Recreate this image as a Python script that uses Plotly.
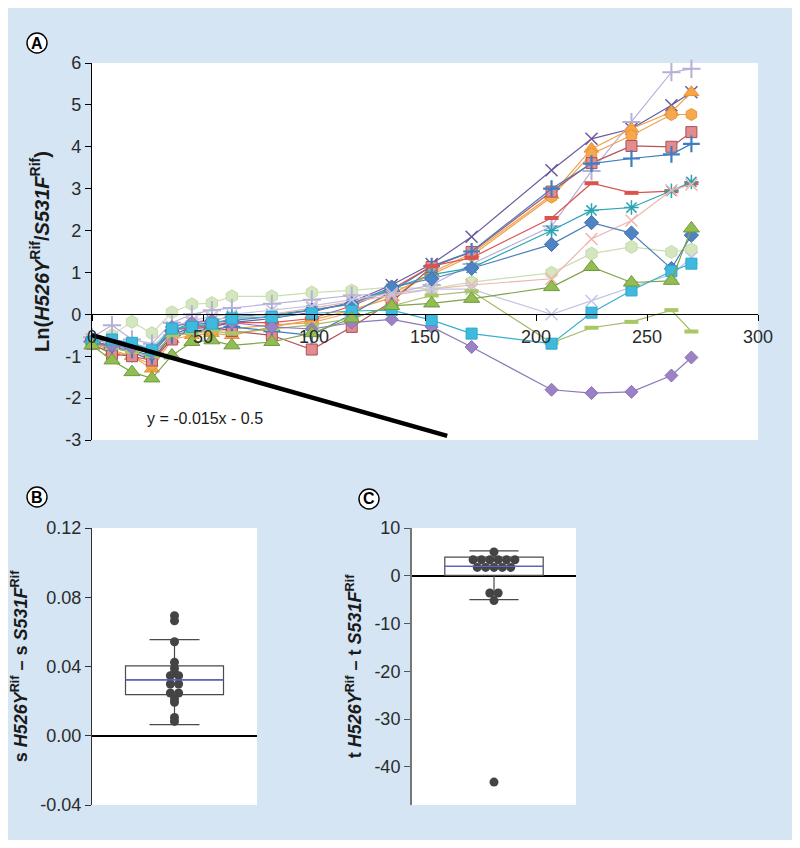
import plotly.graph_objects as go

# the page adds an 8px body margin; the figure itself is slightly smaller than the window
W, H = 784, 832
OFF = 8

# ---------------- Panel A data ----------------
days = [0, 9, 18, 27, 36, 45, 54, 63, 81, 99, 117, 135, 153, 171, 207, 225, 243, 261, 270]

light_green_hex = [-0.70, -0.50, -0.18, -0.45, 0.05, 0.24, 0.27, 0.43, 0.43, 0.52, 0.57, 0.65, 0.61, 0.77, 0.99, 1.45, 1.61, 1.49, 1.55]
purple_x = [-0.60, -0.80, -0.90, -1.10, -0.50, -0.30, -0.30, -0.20, -0.10, 0.05, 0.30, 0.70, 1.20, 1.85, 3.44, 4.19, 4.43, 4.99, 5.30]
lavender_plus = [-0.55, -0.26, -0.60, -0.70, -0.20, 0.00, 0.10, 0.15, 0.25, 0.35, 0.45, 0.50, 0.70, 1.20, 2.10, 3.42, 4.59, 5.78, 5.86]
orange_triangle = [-0.75, -0.90, -1.00, -1.30, -0.60, -0.50, -0.45, -0.50, -0.30, -0.14, 0.10, 0.40, 1.00, 1.45, 2.85, 3.95, 4.43, 4.83, 5.30]
orange_hex = [-0.70, -0.85, -1.00, -1.20, -0.55, -0.40, -0.40, -0.35, -0.25, -0.20, 0.05, 0.50, 0.95, 1.40, 2.80, 3.83, 4.27, 4.77, 4.77]
pink_square = [-0.70, -0.95, -1.00, -1.10, -0.60, -0.35, -0.30, -0.40, -0.50, -0.84, -0.30, 0.30, 1.13, 1.49, 2.93, 3.61, 4.02, 4.00, 4.35]
blue_plus = [-0.65, -0.80, -0.85, -1.00, -0.50, -0.40, -0.35, -0.30, -0.40, -0.50, 0.00, 0.55, 1.15, 1.50, 3.00, 3.60, 3.72, 3.82, 4.07]
red_dash = [-0.60, -0.70, -0.80, -0.90, -0.40, -0.30, -0.25, -0.20, -0.20, -0.10, 0.20, 0.60, 1.15, 1.35, 2.30, 3.13, 2.90, 2.94, 3.13]
teal_asterisk = [-0.65, -0.75, -0.75, -0.85, -0.40, -0.20, -0.15, -0.05, 0.00, 0.10, 0.25, 0.60, 0.95, 1.11, 2.00, 2.48, 2.55, 2.95, 3.16]
pink_x = [-0.60, -0.70, -0.75, -0.90, -0.45, -0.20, -0.10, -0.10, 0.00, 0.15, 0.30, 0.45, 0.60, 0.70, 0.85, 1.80, 2.24, 2.96, 3.10]
blue_diamond = [-0.65, -0.75, -0.80, -0.95, -0.40, -0.25, -0.20, -0.15, -0.05, 0.10, 0.25, 0.65, 0.85, 1.10, 1.67, 2.19, 1.94, 1.09, 1.89]
lavender_x = [-0.60, -0.65, -0.70, -0.80, -0.30, -0.15, -0.05, 0.00, 0.10, 0.20, 0.35, 0.50, 0.60, 0.60, 0.00, 0.32, 0.65, 0.95, 1.35]
lime_dash = [-0.70, -0.80, -0.90, -1.00, -0.50, -0.45, -0.40, -0.45, -0.35, -0.25, -0.10, 0.20, 0.45, 0.55, -0.68, -0.32, -0.18, 0.10, -0.41]
purple_diamond = [-0.70, -0.75, -0.80, -0.90, -0.30, -0.20, -0.15, -0.20, -0.30, -0.35, -0.20, -0.12, -0.30, -0.78, -1.80, -1.88, -1.85, -1.46, -1.03]
cyan_square = [-0.66, -0.60, -0.68, -0.86, -0.34, -0.30, -0.22, -0.10, -0.06, 0.02, 0.08, 0.10, -0.14, -0.46, -0.70, 0.04, 0.57, 1.03, 1.21]
green_triangle = [-0.74, -1.10, -1.38, -1.53, -0.98, -0.66, -0.62, -0.74, -0.66, -0.45, -0.10, 0.20, 0.26, 0.37, 0.65, 1.13, 0.76, 0.80, 2.05]

fit_slope = -0.015
fit_intercept = -0.5
fit_x = [0, 160]
fit_label = "y = -0.015x - 0.5"

A_xticks = [0, 50, 100, 150, 200, 250, 300]
A_xticklabels = ["0", "50", "100", "150", "200", "250", "300"]
A_yticks = [-3, -2, -1, 0, 1, 2, 3, 4, 5, 6]
A_yticklabels = ["-3", "-2", "-1", "0", "1", "2", "3", "4", "5", "6"]

# ---------------- Panel B / C data ----------------
s_diff = [0.0693, 0.0664, 0.0543, 0.0424, 0.0390, 0.0365, 0.0347, 0.0347,
          0.0299, 0.0299, 0.0247, 0.0247, 0.0212, 0.0193, 0.0106, 0.0083]
s_box = dict(q1=0.0237, median=0.0323, q3=0.0404, lowerfence=0.0064, upperfence=0.0555)
B_yticks = [-0.04, 0.0, 0.04, 0.08, 0.12]
B_yticklabels = ["-0.04", "0.00", "0.04", "0.08", "0.12"]

t_diff = [5.0, 3.35, 3.35, 3.35, 3.35, 3.35, 3.35, 1.75, 1.75, 1.75, 1.75, 1.75,
          -3.6, -3.6, -5.2, -43.2]
t_box = dict(q1=0.1, median=1.95, q3=3.9, lowerfence=-5.0, upperfence=5.2)
C_yticks = [-40, -30, -20, -10, 0, 10]
C_yticklabels = ["-40", "-30", "-20", "-10", "0", "10"]

# ---------------- styles ----------------
styles = [
    (light_green_hex, dict(symbol="hexagon", size=13, color="#d3e6bf", line=dict(color="#c4dcaa", width=1)), "#c9dfb2"),
    (purple_x, dict(symbol="x-thin-open", size=12, color="#6a5a9c", line=dict(color="#6a5a9c", width=1.5)), "#6a5a9c"),
    (lavender_plus, dict(symbol="cross-thin-open", size=13, color="#b6b0d8", line=dict(color="#b6b0d8", width=2)), "#b6b0d8"),
    (orange_triangle, dict(symbol="triangle-up", size=13, color="#f6a445", line=dict(color="#eb9434", width=1)), "#f0a04a"),
    (orange_hex, dict(symbol="hexagon", size=12, color="#f6a84e", line=dict(color="#eb9434", width=1)), "#f0a04a"),
    (pink_square, dict(symbol="square", size=11, color="#e48b90", line=dict(color="#a8505a", width=1)), "#b5525a"),
    (blue_plus, dict(symbol="cross-thin-open", size=12, color="#3d7ec2", line=dict(color="#3d7ec2", width=2.2)), "#3d7ec2"),
    (red_dash, dict(symbol="line-ew-open", size=10, color="#d9534f", line=dict(color="#d9534f", width=4)), "#d9534f"),
    (teal_asterisk, dict(symbol="asterisk-open", size=12, color="#2aa3b3", line=dict(color="#2aa3b3", width=1.5)), "#2aa3b3"),
    (pink_x, dict(symbol="x-thin-open", size=12, color="#f0b4ad", line=dict(color="#f0b4ad", width=1.5)), "#f0b4ad"),
    (blue_diamond, dict(symbol="diamond", size=11, color="#4f84c4", line=dict(color="#3f70b0", width=1)), "#4f7fb8"),
    (lavender_x, dict(symbol="x-thin-open", size=12, color="#c4c4e6", line=dict(color="#c4c4e6", width=1.5)), "#c4c4e6"),
    (lime_dash, dict(symbol="line-ew-open", size=10, color="#a9c764", line=dict(color="#a9c764", width=4)), "#a9b86a"),
    (purple_diamond, dict(symbol="diamond", size=10, color="#9b82c4", line=dict(color="#8a70b5", width=1)), "#8e78b8"),
    (cyan_square, dict(symbol="square", size=11, color="#3fbade", line=dict(color="#2aa8cc", width=1)), "#35b0d2"),
    (green_triangle, dict(symbol="triangle-up", size=14, color="#93bd52", line=dict(color="#6f9a3c", width=1)), "#7fa348"),
]

FAMILY = "Liberation Sans"


def fx(px):
    # screen pixel -> paper fraction
    return (px - OFF) / W


def fy(py):
    return 1 - (py - OFF) / H


fig = go.Figure()

for vals, mk, lc in styles:
    fig.add_trace(go.Scatter(x=days, y=vals, mode="lines+markers",
                             line=dict(color=lc, width=1.2), marker=mk,
                             xaxis="x", yaxis="y", showlegend=False, cliponaxis=False))

# regression line
A_ymin, A_ymax = -3, 6
fit_y = [fit_slope * v + fit_intercept for v in fit_x]
fig.add_trace(go.Scatter(x=fit_x, y=fit_y, mode="lines", line=dict(color="black", width=4.5),
                         xaxis="x", yaxis="y", showlegend=False))


def swarm_offsets(vals, step):
    counts = {}
    for v in vals:
        counts[v] = counts.get(v, 0) + 1
    seen = {}
    offs = []
    for v in vals:
        i = seen.get(v, 0)
        seen[v] = i + 1
        offs.append((i - (counts[v] - 1) / 2) * step)
    return offs


# Panel B
B_w = 0.594
fig.add_trace(go.Box(x=[0], q1=[s_box["q1"]], median=[s_box["median"]], q3=[s_box["q3"]],
                     lowerfence=[s_box["lowerfence"]], upperfence=[s_box["upperfence"]],
                     width=B_w, whiskerwidth=0.51, fillcolor="white",
                     line=dict(color="#4a4a4a", width=1.2), boxpoints=False,
                     xaxis="x2", yaxis="y2", showlegend=False))
fig.add_trace(go.Scatter(x=swarm_offsets(s_diff, 0.05), y=s_diff, mode="markers",
                         marker=dict(color="#444444", size=9), xaxis="x2", yaxis="y2", showlegend=False))

# Panel C
C_w = 0.60
fig.add_trace(go.Box(x=[0], q1=[t_box["q1"]], median=[t_box["median"]], q3=[t_box["q3"]],
                     lowerfence=[t_box["lowerfence"]], upperfence=[t_box["upperfence"]],
                     width=C_w, whiskerwidth=0.5, fillcolor="white",
                     line=dict(color="#4a4a4a", width=1.2), boxpoints=False,
                     xaxis="x3", yaxis="y3", showlegend=False))
fig.add_trace(go.Scatter(x=swarm_offsets(t_diff, 0.051), y=t_diff, mode="markers",
                         marker=dict(color="#444444", size=9), xaxis="x3", yaxis="y3", showlegend=False))

tick_font = dict(family=FAMILY, size=18, color="#2b2b2b")
title_font_A = dict(family=FAMILY, size=20, color="#1a1a1a")
title_font_BC = dict(family=FAMILY, size=18, color="#1a1a1a")

A_dom_y = [fy(440), fy(63)]
x_pos = A_dom_y[0] + (0 - A_ymin) / (A_ymax - A_ymin) * (A_dom_y[1] - A_dom_y[0])

fig.update_layout(
    width=W, height=H,
    margin=dict(l=0, r=0, t=0, b=0),
    paper_bgcolor="#d5e5f3",
    plot_bgcolor="white",
    font=dict(family=FAMILY, size=16, color="#2b2b2b"),
    showlegend=False,
    xaxis=dict(domain=[fx(92), fx(758)], range=[0, 300], tickvals=A_xticks, ticktext=A_xticklabels,
               anchor="free", position=x_pos, automargin=False,
               showline=True, linecolor="black", linewidth=1.3, ticks="outside", ticklen=6,
               tickcolor="black", showgrid=False, zeroline=False, tickfont=tick_font),
    yaxis=dict(domain=A_dom_y, range=[A_ymin, A_ymax], tickvals=A_yticks, ticktext=A_yticklabels,
               anchor="x", automargin=False,
               showline=True, linecolor="black", linewidth=1.3, ticks="outside", ticklen=6,
               tickcolor="black", showgrid=False, zeroline=False, tickfont=tick_font,
               title=dict(text="<b>Ln(<i>H526Y</i><sup>Rif</sup>/<i>S531F</i><sup>Rif</sup>)</b>",
                          font=title_font_A, standoff=10)),
    xaxis2=dict(domain=[fx(92), fx(257)], range=[-0.5, 0.5], visible=False, anchor="y2",
                automargin=False),
    yaxis2=dict(domain=[fy(805), fy(528)], range=[-0.04, 0.12],
                tickvals=B_yticks, ticktext=B_yticklabels, anchor="x2", automargin=False,
                showline=True, linecolor="#333333", linewidth=1.3, ticks="outside", ticklen=6,
                tickcolor="#333333", showgrid=False, zeroline=True, zerolinecolor="black",
                zerolinewidth=1.5, tickfont=tick_font,
                title=dict(text="<b>s <i>H526Y</i><sup>Rif</sup> – s <i>S531F</i><sup>Rif</sup></b>",
                           font=title_font_BC, standoff=8)),
    xaxis3=dict(domain=[fx(412), fx(576)], range=[-0.5, 0.5], visible=False, anchor="y3",
                automargin=False),
    yaxis3=dict(domain=[fy(805), fy(528)], range=[-48, 10],
                tickvals=C_yticks, ticktext=C_yticklabels, anchor="x3", automargin=False,
                showline=True, linecolor="#777777", linewidth=2, ticks="outside", ticklen=6,
                tickcolor="#555555", showgrid=False, zeroline=True, zerolinecolor="black",
                zerolinewidth=1.5, tickfont=tick_font,
                title=dict(text="<b>t <i>H526Y</i><sup>Rif</sup> – t <i>S531F</i><sup>Rif</sup></b>",
                           font=title_font_BC, standoff=8)),
)

shapes = []
# median lines in blue
shapes.append(dict(type="line", xref="x2", yref="y2", x0=-B_w / 2, x1=B_w / 2,
                   y0=s_box["median"], y1=s_box["median"], line=dict(color="#5a64c8", width=1.3)))
shapes.append(dict(type="line", xref="x3", yref="y3", x0=-C_w / 2, x1=C_w / 2,
                   y0=t_box["median"], y1=t_box["median"], line=dict(color="#5a64c8", width=1.3)))

annotations = [dict(x=24, y=-2.48, xref="x", yref="y", text=fit_label, showarrow=False,
                    xanchor="left", yanchor="middle",
                    font=dict(family=FAMILY, size=16, color="#1a1a1a"))]

for lab, cx, cy in [("A", 37, 43), ("B", 37, 497), ("C", 369, 499)]:
    r = 10
    shapes.append(dict(type="circle", xref="paper", yref="paper",
                       x0=fx(cx - r), x1=fx(cx + r), y0=fy(cy + r), y1=fy(cy - r),
                       line=dict(color="black", width=1.4), fillcolor="white", layer="above"))
    annotations.append(dict(x=fx(cx), y=fy(cy), xref="paper", yref="paper", text=f"<b>{lab}</b>",
                            showarrow=False, xanchor="center", yanchor="middle",
                            font=dict(family=FAMILY, size=16, color="black")))

fig.update_layout(shapes=shapes, annotations=annotations)

fig.write_html("out.html")
